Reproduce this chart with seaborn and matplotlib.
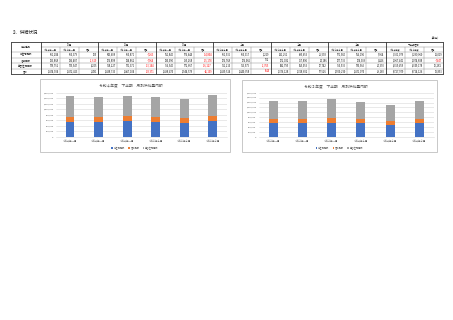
import matplotlib
matplotlib.use("Agg")
import matplotlib.pyplot as plt
import seaborn as sns
import numpy as np
import pandas as pd
from matplotlib.patches import Rectangle, Patch
from matplotlib.ticker import FuncFormatter

sns.set_style("white")
plt.rcParams['font.family'] = ['Noto Sans CJK JP', 'DejaVu Sans']

# ---------------- data ----------------
section_title = "３．供給状況"
unit_label = "（単位）"
row_header = "供給種別"
facility_labels = ["非住宅施設", "店舗施設", "集合住宅施設"]
total_label = "合計"
month_headers = ["10月", "11月", "12月", "１月", "２月", "３月", "下半期合計"]
sub_headers = [
    ["令和４年10月", "令和３年10月", "増減"],
    ["令和４年11月", "令和３年11月", "増減"],
    ["令和４年12月", "令和３年12月", "増減"],
    ["令和５年１月", "令和４年１月", "増減"],
    ["令和５年２月", "令和４年２月", "増減"],
    ["令和５年３月", "令和４年３月", "増減"],
    ["令和４年度", "令和３年度", "増減"],
]
months_r4 = ["令和４年10月", "令和４年11月", "令和４年12月", "令和５年１月", "令和５年２月", "令和５年３月"]
months_r3 = ["令和３年10月", "令和３年11月", "令和３年12月", "令和４年１月", "令和４年２月", "令和４年３月"]
title_r4 = "令和４年度　下半期　月別供給量内訳"
title_r3 = "令和３年度　下半期　月別供給量内訳"

nonres_r4 = [551284, 543608, 561840, 551536, 521251, 571560]
nonres_r3 = [550379, 550871, 576644, 550317, 495653, 566196]
shop_r4 = [183868, 176898, 180090, 176768, 172082, 177735]
shop_r3 = [186487, 184862, 195268, 176066, 157896, 174309]
apt_r4 = [739752, 718227, 756540, 711210, 682795, 750935]
apt_r3 = [735547, 731371, 772667, 713975, 665053, 730565]
total_r4 = [1474904, 1438733, 1498470, 1439514, 1376128, 1500230]
total_r3 = [1472413, 1467104, 1544579, 1440358, 1318602, 1471070]

half_r4 = [3301079, 1067441, 4359459, 8727979]
half_r3 = [3290060, 1074888, 4349178, 8714126]

diff_nonres = [905, -7263, -14804, 1219, 25598, 5364, 11019]
diff_shop = [-2619, -7964, -15178, 702, 14186, 3426, -7447]
diff_apt = [4205, -13144, -16127, -2765, 17742, 20370, 10281]
diff_total = [2491, -28371, -46109, -844, 57526, 29160, 13853]

yticks_r4 = [0, 200000, 400000, 600000, 800000, 1000000, 1200000, 1400000, 1600000]
yticks_r3 = [0, 200000, 400000, 600000, 800000, 1000000, 1200000, 1400000, 1600000, 1800000]

c_blue, c_orange, c_gray = "#4472C4", "#ED7D31", "#A5A5A5"

# ---------------- figure ----------------
W, H = 453, 320
fig = plt.figure(figsize=(W / 100, H / 100), dpi=100)
fig.patch.set_facecolor("white")

ov = fig.add_axes([0, 0, 1, 1])
ov.set_xlim(0, W)
ov.set_ylim(H, 0)
ov.axis("off")

ov.text(11, 32, section_title, fontsize=3.2, ha="left", va="center", color="#222222")
ov.text(440, 38, unit_label, fontsize=2.0, ha="right", va="center", color="#222222")

# ---- table ----
x_first0, x_first1 = 11, 40.5
block_w = 57.5
block_x = [x_first1 + block_w * k for k in range(8)]
rows_y = [42, 47, 52, 57.5, 63, 68.5, 74]
fs_t = 1.8
thin = dict(color="#7f7f7f", lw=0.3)
thick = dict(color="#333333", lw=0.6)

ov.plot([x_first1, block_x[-1]], [rows_y[1], rows_y[1]], **thin)
for y in rows_y[2:-1]:
    ov.plot([x_first0, block_x[-1]], [y, y], **thin)
ov.plot([x_first0, block_x[-1]], [rows_y[0], rows_y[0]], **thick)
ov.plot([x_first0, block_x[-1]], [rows_y[-1], rows_y[-1]], **thick)
ov.plot([x_first0, x_first0], [rows_y[0], rows_y[-1]], **thick)
for bx in block_x:
    ov.plot([bx, bx], [rows_y[0], rows_y[-1]], **thick)
for k in range(7):
    for j in (1, 2):
        sx = block_x[k] + block_w * j / 3
        ov.plot([sx, sx], [rows_y[1], rows_y[-1]], **thin)

ov.text((x_first0 + x_first1) / 2, (rows_y[0] + rows_y[2]) / 2, row_header,
        fontsize=fs_t, ha="center", va="center")
row_names = facility_labels + [total_label]
for i, nm in enumerate(row_names):
    ov.text((x_first0 + x_first1) / 2, (rows_y[2 + i] + rows_y[3 + i]) / 2, nm,
            fontsize=fs_t, ha="center", va="center")

r4_rows = [nonres_r4, shop_r4, apt_r4, total_r4]
r3_rows = [nonres_r3, shop_r3, apt_r3, total_r3]
diff_rows = [diff_nonres, diff_shop, diff_apt, diff_total]

for k in range(7):
    bx = block_x[k]
    ov.text(bx + block_w / 2, (rows_y[0] + rows_y[1]) / 2, month_headers[k],
            fontsize=fs_t, ha="center", va="center")
    for j in range(3):
        ov.text(bx + block_w * (j + 0.5) / 3, (rows_y[1] + rows_y[2]) / 2, sub_headers[k][j],
                fontsize=1.5, ha="center", va="center")
    for i in range(4):
        if k < 6:
            vals = [r4_rows[i][k], r3_rows[i][k], diff_rows[i][k]]
        else:
            vals = [half_r4[i], half_r3[i], diff_rows[i][k]]
        yc = (rows_y[2 + i] + rows_y[3 + i]) / 2
        for j, v in enumerate(vals):
            col = "#FF0000" if v < 0 else "#111111"
            ov.text(bx + block_w * (j + 1) / 3 - 1.0, yc, f"{v:,}",
                    fontsize=fs_t, ha="right", va="center", color=col)


# ---- charts ----
def fx(x):
    return x / W


def fy(y):
    return 1 - y / H


def make_chart(box, plot, title, labels, blue, orange, gray, yticks):
    bx0, by0, bx1, by1 = box
    ov.add_patch(Rectangle((bx0, by0), bx1 - bx0, by1 - by0, fill=False,
                           ec="#BFBFBF", lw=0.6))
    ov.text((bx0 + bx1) / 2 - 4, by0 + 7, title, fontsize=2.7, ha="center",
            va="center", color="#595959")
    px0, py0, px1, py1 = plot
    ax = fig.add_axes([fx(px0), fy(py1), (px1 - px0) / W, (py1 - py0) / H])
    ax.set_facecolor("none")
    b = np.array(blue)
    bo = b + np.array(orange)
    tot = bo + np.array(gray)
    df = pd.DataFrame({"month": labels, "blue": b, "bo": bo, "tot": tot})
    kw = dict(data=df, x="month", order=labels, width=0.31, saturation=1,
              errorbar=None, ax=ax, linewidth=0, edgecolor="none")
    sns.barplot(y="tot", color=c_gray, **kw)
    sns.barplot(y="bo", color=c_orange, **kw)
    sns.barplot(y="blue", color=c_blue, **kw)
    ax.set_xlim(-0.5, len(labels) - 0.5)
    ax.set_ylim(yticks[0], yticks[-1])
    ax.set_yticks(yticks)
    ax.yaxis.set_major_formatter(FuncFormatter(lambda v, p: f"{int(v):,}"))
    ax.yaxis.grid(True, color="#D9D9D9", lw=0.4)
    ax.set_axisbelow(True)
    for s in ("top", "right", "left"):
        ax.spines[s].set_visible(False)
    ax.spines["bottom"].set_color("#D9D9D9")
    ax.spines["bottom"].set_linewidth(0.4)
    ax.tick_params(axis="both", length=0, pad=1.5, labelsize=1.7, labelcolor="#595959")
    ax.set_xlabel("")
    ax.set_ylabel("")
    handles = [Patch(facecolor=c_blue, edgecolor="none", label=facility_labels[0]),
               Patch(facecolor=c_orange, edgecolor="none", label=facility_labels[1]),
               Patch(facecolor=c_gray, edgecolor="none", label=facility_labels[2])]
    lx = ((bx0 + bx1) / 2 - px0) / (px1 - px0)
    ly = (py1 - 148) / (py1 - py0)
    leg = ax.legend(handles=handles, loc="center", bbox_to_anchor=(lx, ly), ncol=3,
                    frameon=False, fontsize=1.6, handlelength=0.7, handleheight=0.7,
                    handletextpad=0.4, columnspacing=1.5, borderaxespad=0)
    for t in leg.get_texts():
        t.set_color("#595959")
    return ax


make_chart((40, 79, 230, 152), (55.7, 92.7, 227, 137), title_r4, months_r4,
           nonres_r4, shop_r4, apt_r4, yticks_r4)
make_chart((242, 80, 437, 152), (258.5, 92.7, 434, 137), title_r3, months_r3,
           nonres_r3, shop_r3, apt_r3, yticks_r3)

fig.savefig("out.png", dpi=100, facecolor="white")
